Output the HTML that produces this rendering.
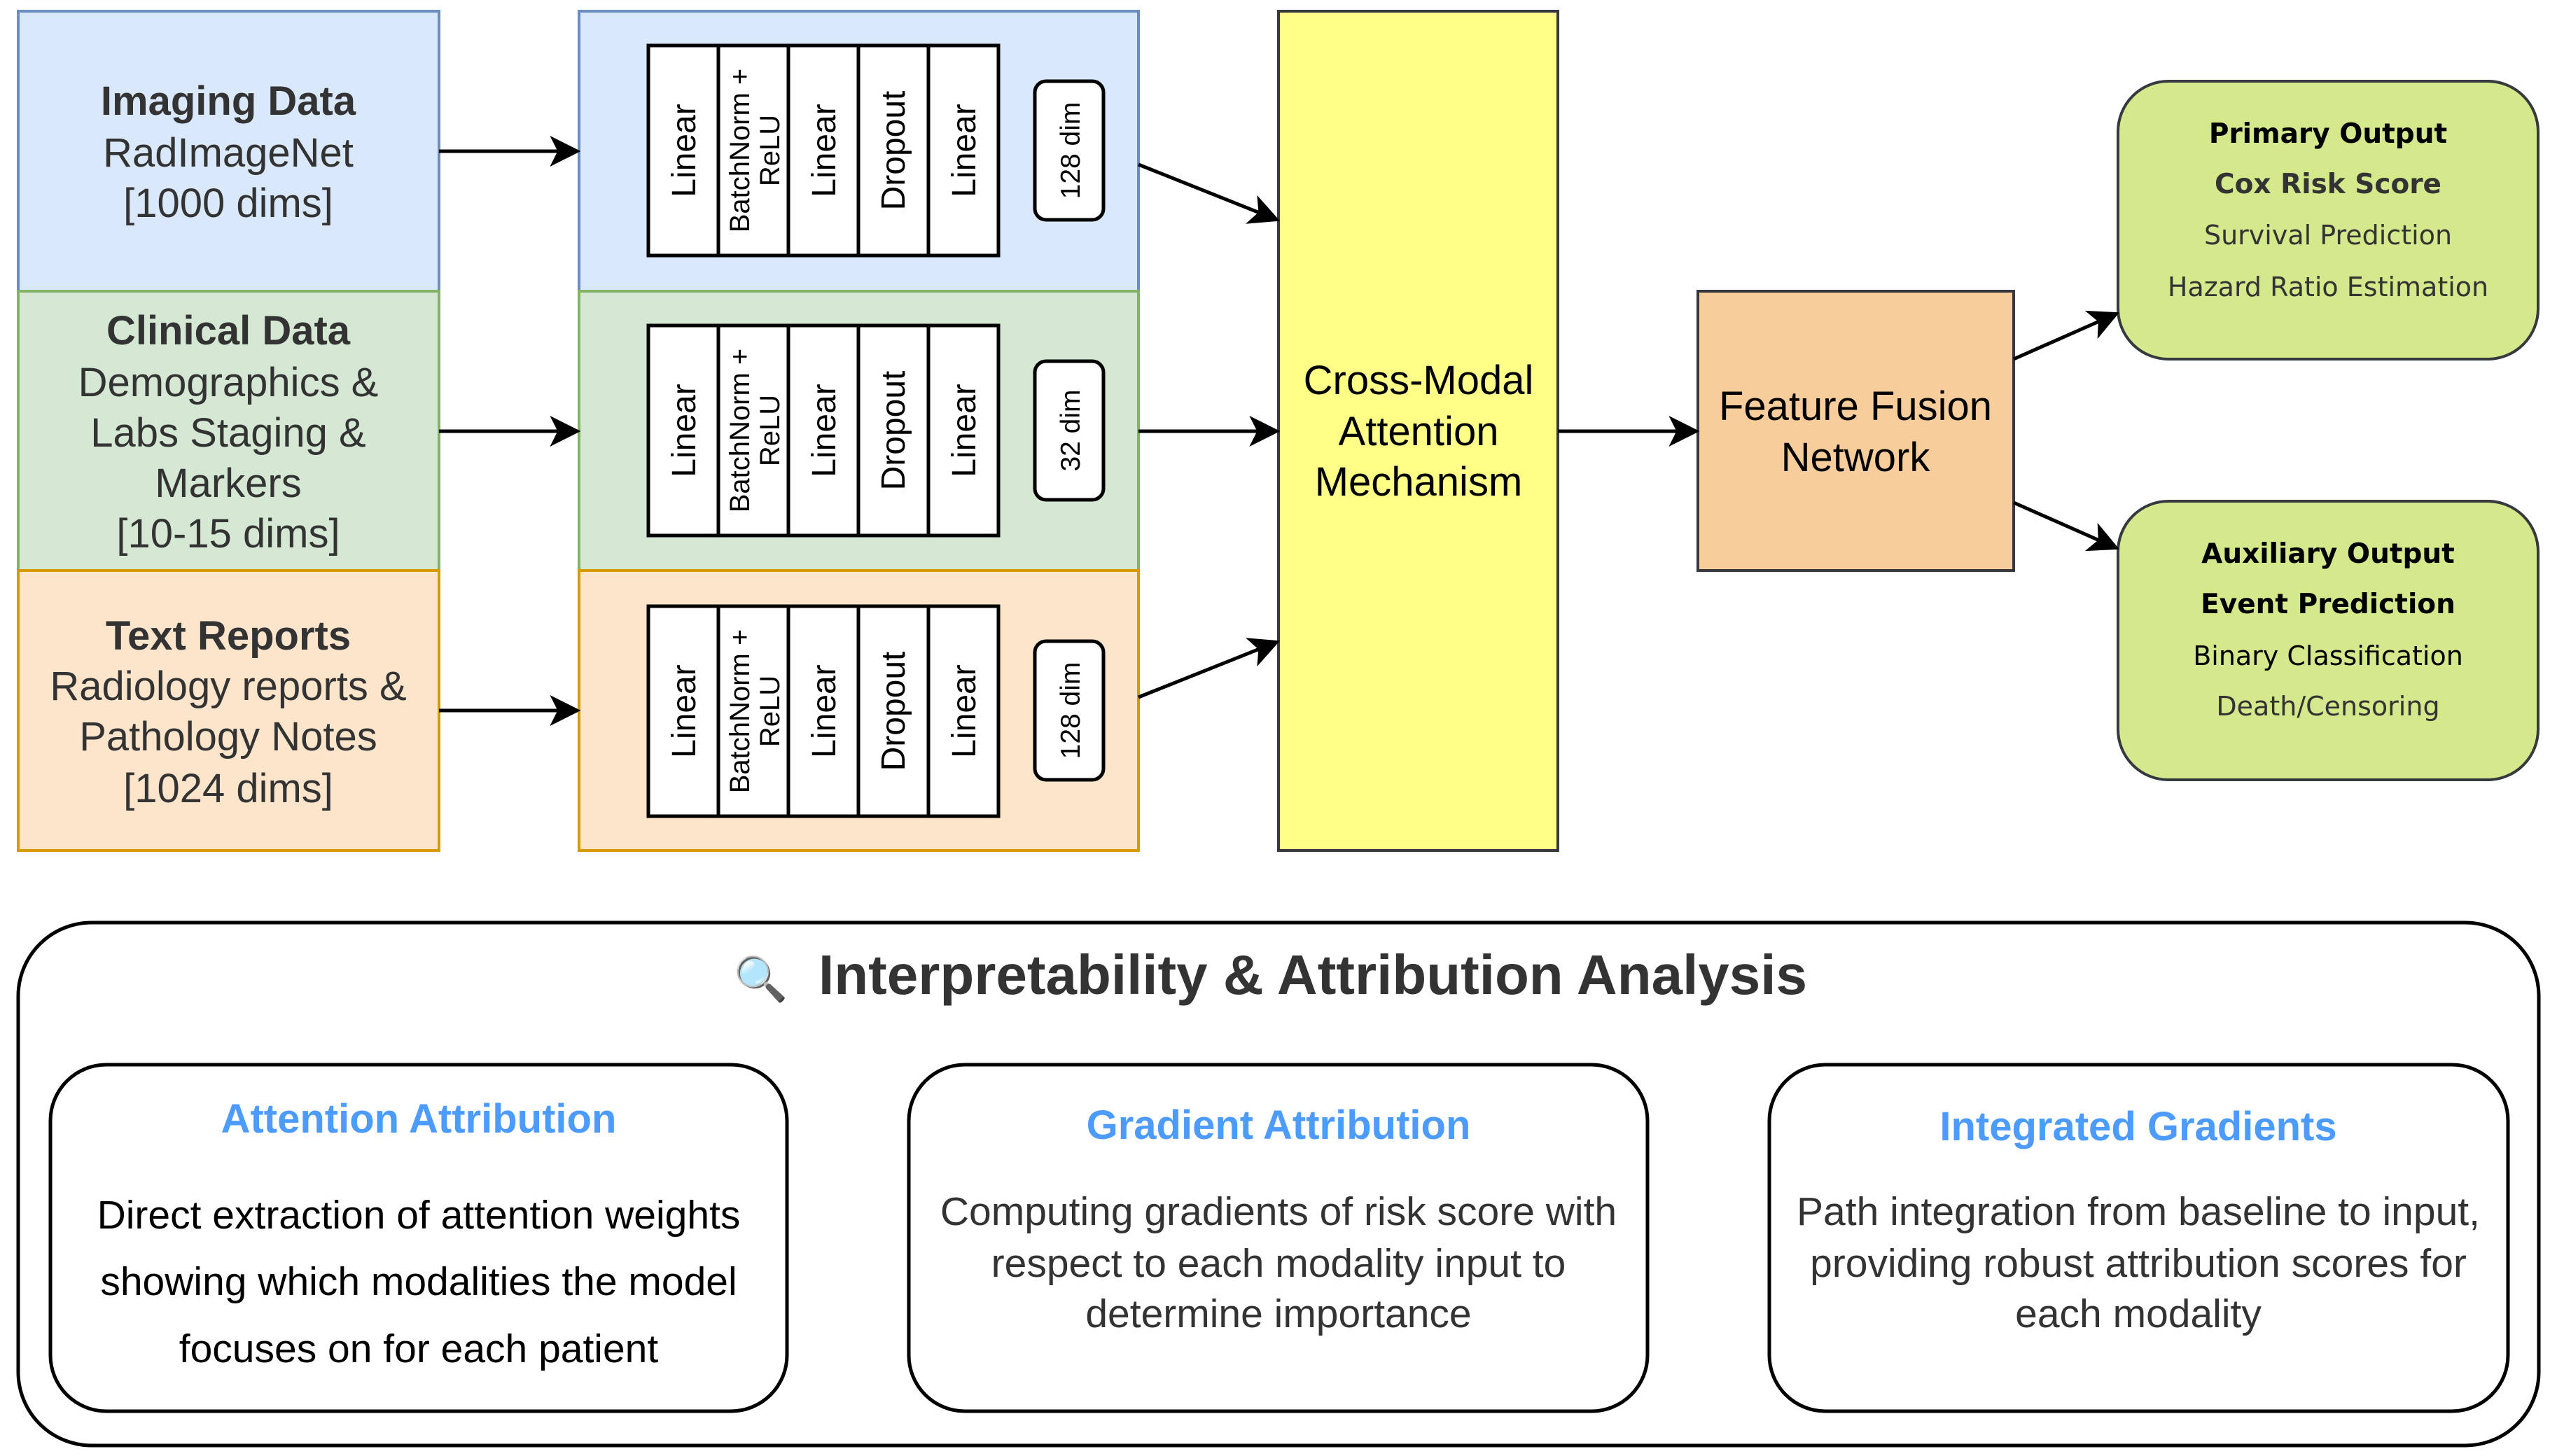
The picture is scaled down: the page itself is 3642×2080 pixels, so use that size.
<!DOCTYPE html>
<html><head><meta charset="utf-8"><style>html,body{margin:0;padding:0;background:#fff}svg{display:block}</style></head>
<body>
<svg width="3642" height="2080" viewBox="0 0 3642 2080" xmlns="http://www.w3.org/2000/svg" font-family="Liberation Sans, DejaVu Sans, sans-serif">
<defs>
<marker id="a" viewBox="0 0 20 20" refX="18" refY="10" markerWidth="44" markerHeight="44" orient="auto" markerUnits="userSpaceOnUse"><path d="M0,0 L20,10 L0,20 L5,10 Z" fill="#000"/></marker>
</defs>
<!-- input boxes -->
<rect x="26" y="16" width="601" height="400" fill="#dae8fc" stroke="#6c8ebf" stroke-width="4"/>
<rect x="26" y="416" width="601" height="399" fill="#d5e8d4" stroke="#82b366" stroke-width="4"/>
<rect x="26" y="815" width="601" height="400" fill="#fde5cc" stroke="#d79b00" stroke-width="4"/>
<g fill="#333" font-size="58" text-anchor="middle">
<text x="326" y="164" font-weight="bold">Imaging Data</text>
<text x="326" y="238">RadImageNet</text>
<text x="326" y="310">[1000 dims]</text>
<text x="326" y="492" font-weight="bold">Clinical Data</text>
<text x="326" y="566">Demographics &amp;</text>
<text x="326" y="638">Labs Staging &amp;</text>
<text x="326" y="710">Markers</text>
<text x="326" y="782">[10-15 dims]</text>
<text x="326" y="928" font-weight="bold">Text Reports</text>
<text x="326" y="1000">Radiology reports &amp;</text>
<text x="326" y="1072">Pathology Notes</text>
<text x="326" y="1146">[1024 dims]</text>
</g>
<!-- encoder panels -->
<rect x="827" y="16" width="799" height="400" fill="#dae8fc" stroke="#6c8ebf" stroke-width="4"/>
<rect x="827" y="416" width="799" height="399" fill="#d5e8d4" stroke="#82b366" stroke-width="4"/>
<rect x="827" y="815" width="799" height="400" fill="#fde5cc" stroke="#d79b00" stroke-width="4"/>
<g id="stack1">
<rect x="926" y="65" width="500" height="300" fill="#fff" stroke="#000" stroke-width="5"/>
<path d="M1026,65V365M1126,65V365M1226,65V365M1326,65V365" stroke="#000" stroke-width="5"/>
</g>
<use href="#stack1" y="400"/>
<use href="#stack1" y="801"/>
<g font-size="48" text-anchor="middle" fill="#000">
<text transform="translate(993,215) rotate(-90)">Linear</text>
<text transform="translate(1193,215) rotate(-90)">Linear</text>
<text transform="translate(1292,215) rotate(-90)">Dropout</text>
<text transform="translate(1393,215) rotate(-90)">Linear</text>
<text transform="translate(993,615) rotate(-90)">Linear</text>
<text transform="translate(1193,615) rotate(-90)">Linear</text>
<text transform="translate(1292,615) rotate(-90)">Dropout</text>
<text transform="translate(1393,615) rotate(-90)">Linear</text>
<text transform="translate(993,1016) rotate(-90)">Linear</text>
<text transform="translate(1193,1016) rotate(-90)">Linear</text>
<text transform="translate(1292,1016) rotate(-90)">Dropout</text>
<text transform="translate(1393,1016) rotate(-90)">Linear</text>
</g>
<g font-size="40" text-anchor="middle" fill="#000">
<text transform="translate(1070,215) rotate(-90)">BatchNorm +</text>
<text transform="translate(1113,215) rotate(-90)">ReLU</text>
<text transform="translate(1070,615) rotate(-90)">BatchNorm +</text>
<text transform="translate(1113,615) rotate(-90)">ReLU</text>
<text transform="translate(1070,1016) rotate(-90)">BatchNorm +</text>
<text transform="translate(1113,1016) rotate(-90)">ReLU</text>
</g>
<g fill="#fff" stroke="#000" stroke-width="5">
<rect x="1478" y="116" width="98" height="198" rx="16"/>
<rect x="1478" y="516" width="98" height="198" rx="16"/>
<rect x="1478" y="916" width="98" height="198" rx="16"/>
</g>
<g font-size="39" text-anchor="middle" fill="#000">
<text transform="translate(1542,215) rotate(-90)">128 dim</text>
<text transform="translate(1542,615) rotate(-90)">32 dim</text>
<text transform="translate(1542,1015) rotate(-90)">128 dim</text>
</g>
<!-- yellow & fusion -->
<rect x="1826" y="16" width="399" height="1199" fill="#ffff88" stroke="#36393d" stroke-width="4"/>
<g font-size="58" text-anchor="middle" fill="#000">
<text x="2026" y="563">Cross-Modal</text>
<text x="2026" y="636">Attention</text>
<text x="2026" y="708">Mechanism</text>
</g>
<rect x="2425" y="416" width="451" height="399" fill="#f7ce9b" stroke="#36393d" stroke-width="4"/>
<g font-size="58" text-anchor="middle" fill="#000">
<text x="2650" y="600">Feature Fusion</text>
<text x="2650" y="673">Network</text>
</g>
<!-- outputs -->
<rect x="3025" y="116" width="600" height="397" rx="72" fill="#d4e88c" stroke="#36393d" stroke-width="4"/>
<rect x="3025" y="716" width="600" height="398" rx="72" fill="#d4e88c" stroke="#36393d" stroke-width="4"/>
<g font-size="40" text-anchor="middle" fill="#333" font-family="DejaVu Sans, Liberation Sans, sans-serif">
<text x="3325" y="204" font-weight="bold" fill="#000" font-size="39">Primary Output</text>
<text x="3325" y="276" font-weight="bold" font-size="39">Cox Risk Score</text>
<text x="3325" y="349" font-size="38">Survival Prediction</text>
<text x="3325" y="423" font-size="38">Hazard Ratio Estimation</text>
<text x="3325" y="804" font-weight="bold" fill="#000" font-size="39">Auxiliary Output</text>
<text x="3325" y="876" font-weight="bold" fill="#000" font-size="39">Event Prediction</text>
<text x="3325" y="950" fill="#000" font-size="38">Binary Classification</text>
<text x="3325" y="1022" font-size="38">Death/Censoring</text>
</g>
<!-- arrows -->
<g stroke="#000" stroke-width="5" fill="none" marker-end="url(#a)">
<line x1="627" y1="216" x2="825" y2="216"/>
<line x1="627" y1="616" x2="825" y2="616"/>
<line x1="627" y1="1015" x2="825" y2="1015"/>
<line x1="1626" y1="235" x2="1824" y2="314"/>
<line x1="1626" y1="616" x2="1824" y2="616"/>
<line x1="1626" y1="996" x2="1824" y2="917"/>
<line x1="2225" y1="616" x2="2423" y2="616"/>
<line x1="2876" y1="513" x2="3023" y2="448"/>
<line x1="2876" y1="718" x2="3023" y2="783"/>
</g>
<!-- bottom -->
<rect x="26" y="1318" width="3600" height="747" rx="105" fill="#fff" stroke="#000" stroke-width="5"/>
<text x="1048" y="1420" font-size="62">🔍</text>
<text x="1875" y="1420" font-size="80" font-weight="bold" fill="#333" text-anchor="middle">Interpretability &amp; Attribution Analysis</text>
<g fill="#fff" stroke="#000" stroke-width="5">
<rect x="72" y="1521" width="1052" height="495" rx="80"/>
<rect x="1298" y="1521" width="1055" height="495" rx="80"/>
<rect x="2527" y="1521" width="1055" height="495" rx="80"/>
</g>
<g font-size="58" text-anchor="middle" font-weight="bold" fill="#4c9bff">
<text x="598" y="1618">Attention Attribution</text>
<text x="1826" y="1627">Gradient Attribution</text>
<text x="3054" y="1629">Integrated Gradients</text>
</g>
<g font-size="57" text-anchor="middle" fill="#000">
<text x="598" y="1755">Direct extraction of attention weights</text>
<text x="598" y="1850">showing which modalities the model</text>
<text x="598" y="1946">focuses on for each patient</text>
</g>
<g font-size="57" text-anchor="middle" fill="#333">
<text x="1826" y="1750">Computing gradients of risk score with</text>
<text x="1826" y="1824">respect to each modality input to</text>
<text x="1826" y="1896">determine importance</text>
<text x="3054" y="1750">Path integration from baseline to input,</text>
<text x="3054" y="1824">providing robust attribution scores for</text>
<text x="3054" y="1896">each modality</text>
</g>
</svg>
</body></html>
